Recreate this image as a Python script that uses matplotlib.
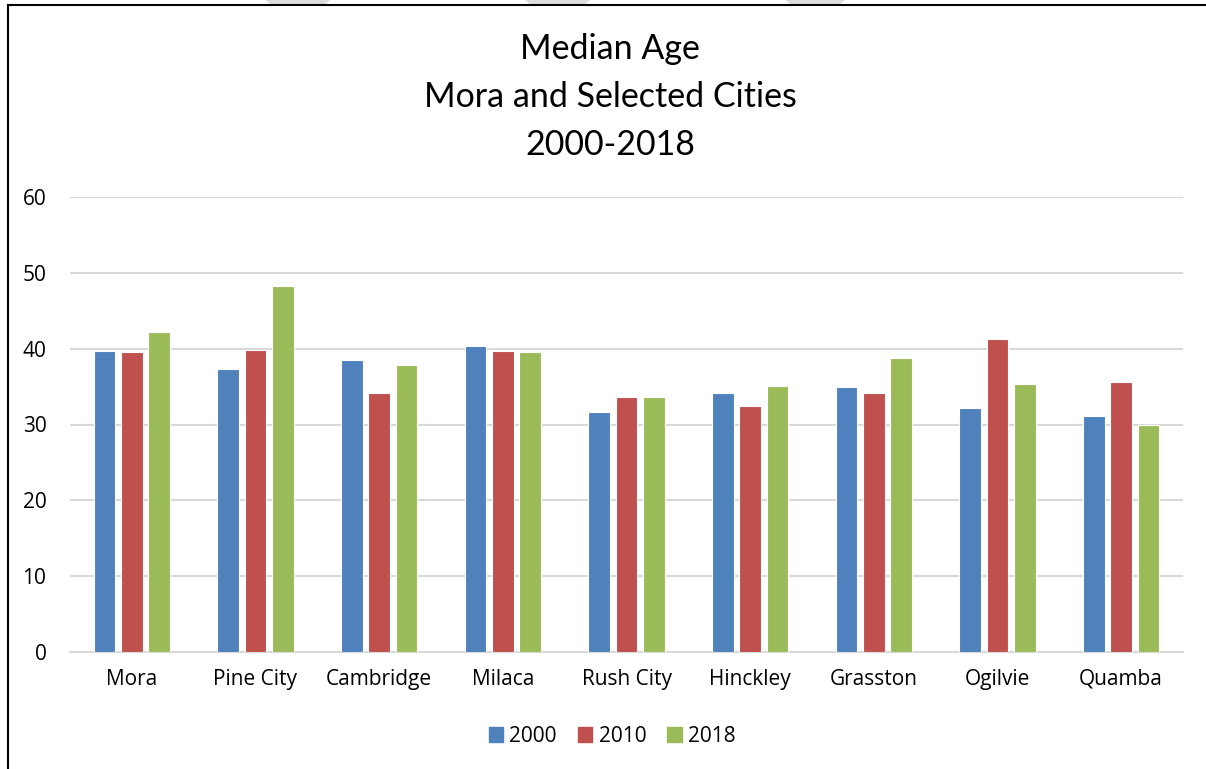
import matplotlib
matplotlib.use("Agg")
import matplotlib.pyplot as plt
import numpy as np
from matplotlib.patches import Rectangle, Polygon
from matplotlib.lines import Line2D

cities = ["Mora", "Pine City", "Cambridge", "Milaca", "Rush City",
          "Hinckley", "Grasston", "Ogilvie", "Quamba"]
years = ["2000", "2010", "2018"]
v2000 = [39.7, 37.3, 38.5, 40.4, 31.6, 34.2, 34.9, 32.2, 31.1]
v2010 = [39.6, 39.8, 34.2, 39.7, 33.6, 32.5, 34.1, 41.3, 35.6]
v2018 = [42.2, 48.2, 37.8, 39.6, 33.6, 35.1, 38.8, 35.3, 30.0]
colors = ["#4F81BD", "#C0504D", "#9BBB59"]
yticks = [0, 10, 20, 30, 40, 50, 60]

plt.rcParams['font.family'] = ['Open Sans', 'DejaVu Sans']

W, H = 1206, 769
fig = plt.figure(figsize=(W/100, H/100), dpi=100)
ax = fig.add_axes([70/W, 1-652/H, (1183-70)/W, (652-197)/H])

x = np.arange(len(cities))
w = 0.175
step = 0.22
for i, (vals, c, lab) in enumerate(zip([v2000, v2010, v2018], colors, years)):
    ax.bar(x + (i-1)*step, vals, width=w, color=c, edgecolor='white',
           linewidth=0.8, label=lab, zorder=3)

ax.set_xlim(-0.5, len(cities)-0.5)
ax.set_ylim(0, 60)
ax.set_yticks(yticks)
ax.set_yticklabels([str(t) for t in yticks], fontsize=15)
ax.set_xticks(x)
ax.set_xticklabels(cities, fontsize=15)
ax.tick_params(axis='both', length=0, colors='black')
ax.tick_params(axis='y', pad=17)
ax.tick_params(axis='x', pad=12)
ax.yaxis.grid(True, color='#D9D9D9', linewidth=1.5, zorder=0)
ax.set_axisbelow(True)
for s in ['top', 'right', 'left']:
    ax.spines[s].set_visible(False)
ax.spines['bottom'].set_color('#D9D9D9')
ax.spines['bottom'].set_linewidth(1.5)

fig.text(610/W, 1-97/H, "Median Age\nMora and Selected Cities\n2000-2018",
         ha='center', va='center', fontsize=24.5, linespacing=1.6,
         family=['Lato', 'DejaVu Sans'])

handles = [Rectangle((0, 0), 1, 1, color=c) for c in colors]
fig.legend(handles, years, loc='center', bbox_to_anchor=(612/W, 1-736/H),
           ncol=3, frameon=False, fontsize=15, handlelength=0.7, handleheight=0.7,
           handletextpad=0.3, columnspacing=1.0)

# faint watermark shapes at the top edge
for x0, x1 in [(265, 330), (525, 590), (785, 845)]:
    fig.add_artist(Polygon([[x0/W, 1], [x1/W, 1], [(x1-6)/W, 1-5/H], [(x0+6)/W, 1-5/H]],
                           closed=True, facecolor='#DDDDDD', edgecolor='none',
                           transform=fig.transFigure))

# frame border
fig.add_artist(Line2D([8/W, 8/W], [0, 1-5/H], color='black', lw=1.5,
                      transform=fig.transFigure))
fig.add_artist(Line2D([8/W, 1], [1-5/H, 1-5/H], color='black', lw=1.5,
                      transform=fig.transFigure))

fig.savefig("out.png", dpi=100)
